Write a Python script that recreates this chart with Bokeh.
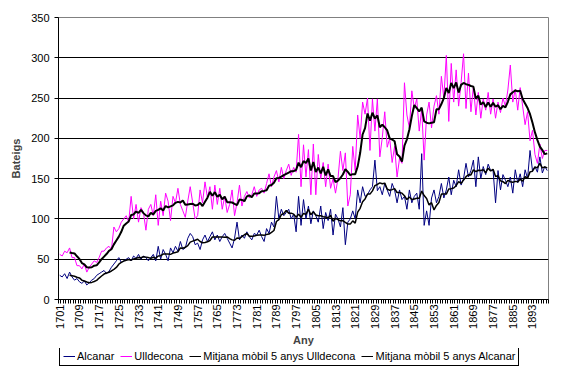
import numpy as np
from bokeh.plotting import figure
from bokeh.layouts import column
from bokeh.models import Range1d, FixedTicker, Legend, LegendItem, ColumnDataSource
from bokeh.embed import file_html
from bokeh.resources import INLINE

years = list(range(1701, 1900))

alcanar = [
    30, 28, 32, 26, 34, 28, 24, 26, 22, 20,
    23, 18, 21, 24, 26, 30, 32, 34, 36, 32,
    35, 40, 44, 48, 52, 46, 48, 50, 52, 48,
    54, 51, 56, 50, 54, 52, 48, 52, 56, 48,
    66, 50, 62, 56, 48, 64, 58, 66, 60, 72,
    62, 64, 76, 82, 78, 68, 70, 62, 74, 80,
    72, 78, 84, 74, 80, 72, 78, 82, 76, 70,
    64, 76, 96, 74, 80, 76, 84, 78, 74, 82,
    80, 86, 78, 72, 88, 82, 96, 90, 128, 100,
    112, 104, 108, 112, 100, 106, 84, 128, 92, 124,
    100, 116, 94, 110, 104, 96, 116, 88, 108, 98,
    112, 80, 106, 100, 90, 114, 68, 96, 100, 110,
    100, 136, 120, 140, 128, 130, 136, 140, 173, 135,
    140, 130, 144, 136, 128, 144, 136, 120, 136, 124,
    128, 112, 136, 120, 128, 132, 112, 181, 92, 110,
    92, 126, 136, 120, 128, 144, 126, 136, 152, 130,
    148, 140, 161, 142, 150, 169, 152, 160, 173, 140,
    177, 150, 165, 155, 168, 160, 160, 120, 160, 136,
    155, 148, 140, 152, 132, 161, 145, 156, 140, 161,
    150, 185, 160, 165, 158, 177, 157, 165, 160,
]

ulldecona = [
    56, 54, 60, 58, 64, 52, 52, 42, 42, 38,
    44, 34, 40, 44, 48, 46, 52, 60, 60, 64,
    66, 62, 90, 84, 88, 96, 100, 104, 96, 128,
    100, 118, 96, 114, 108, 86, 112, 118, 104, 130,
    92, 122, 104, 132, 122, 98, 128, 120, 138, 118,
    110, 102, 122, 140, 120, 100, 104, 136, 120, 146,
    126, 140, 112, 142, 118, 138, 112, 128, 108, 118,
    136, 104, 120, 142, 116, 128, 134, 126, 130, 140,
    128, 136, 138, 132, 144, 156, 140, 152, 160, 146,
    164, 150, 160, 168, 154, 164, 158, 205, 140, 192,
    152, 186, 130, 193, 130, 180, 150, 170, 140, 168,
    138, 150, 132, 150, 184, 160, 182, 116, 130, 190,
    160, 229, 200, 245, 230, 250, 185, 249, 209, 249,
    177, 201, 233, 189, 200, 170, 190, 152, 175, 169,
    269, 229, 213, 259, 237, 249, 209, 237, 173, 229,
    245, 213, 240, 253, 230, 277, 250, 303, 221, 293,
    245, 285, 240, 269, 305, 237, 281, 233, 265, 229,
    257, 225, 249, 235, 257, 230, 249, 225, 245, 232,
    250, 240, 260, 291, 245, 261, 235, 263, 240, 217,
    233, 197, 210, 180, 169, 193, 175, 185, 185,
]

tick_years = list(range(1701, 1894, 8))
y_ticks = [0, 50, 100, 150, 200, 250, 300, 350]
grid_values = [50, 100, 150, 200, 250, 300]
series_names = ["Alcanar", "Ulldecona",
                "Mitjana mòbil 5 anys Ulldecona", "Mitjana mòbil 5 anys Alcanar"]

window = 5


def trailing_mean(vals, n):
    arr = np.asarray(vals, dtype=float)
    return np.convolve(arr, np.ones(n) / n, mode="valid")


ma_years = years[window - 1:]
ma_ull = trailing_mean(ulldecona, window)
ma_alc = trailing_mean(alcanar, window)

FONT = "Liberation Sans"
C_ALC = "#000080"
C_ULL = "#FF00FF"

p = figure(width=552, height=348, output_backend="svg", toolbar_location=None,
           x_range=Range1d(1700.5, 1899.5), y_range=Range1d(0, 350),
           min_border_left=58, min_border_top=17, min_border_right=4,
           min_border_bottom=46)
p.background_fill_color = "white"
p.border_fill_color = "white"
p.outline_line_color = "#808080"
p.outline_line_width = 1

src = ColumnDataSource(dict(x=years, a=alcanar, u=ulldecona))
src_ma = ColumnDataSource(dict(x=ma_years, mu=ma_ull, ma=ma_alc))

p.line("x", "a", source=src, line_color=C_ALC, line_width=1)
p.line("x", "u", source=src, line_color=C_ULL, line_width=1)
p.line("x", "mu", source=src_ma, line_color="black", line_width=2)
p.line("x", "ma", source=src_ma, line_color="black", line_width=1.5)

# grid
p.xgrid.visible = False
p.ygrid.ticker = FixedTicker(ticks=grid_values)
p.ygrid.grid_line_color = "black"
p.ygrid.grid_line_width = 1

# x axis
xa = p.xaxis[0]
xa.ticker = FixedTicker(ticks=tick_years,
                        minor_ticks=[y + 0.5 for y in range(1700, 1900)])
xa.major_label_overrides = {y: str(y) for y in tick_years}
xa.major_label_orientation = np.pi / 2
xa.major_tick_line_color = None
xa.major_tick_out = 4
xa.major_tick_in = 0
xa.minor_tick_out = 4
xa.minor_tick_in = 0
xa.minor_tick_line_color = "black"
xa.axis_line_color = "black"
xa.major_label_standoff = 1
xa.major_label_text_font = FONT
xa.major_label_text_font_size = "11px"
xa.major_label_text_color = "black"
xa.axis_label = "Any"
xa.axis_label_text_font = FONT
xa.axis_label_text_font_size = "11px"
xa.axis_label_text_font_style = "bold"
xa.axis_label_standoff = 2

# y axis
ya = p.yaxis[0]
ya.ticker = FixedTicker(ticks=y_ticks)
ya.major_tick_out = 4
ya.major_tick_in = 0
ya.minor_tick_line_color = None
ya.axis_line_color = "black"
ya.major_tick_line_color = "black"
ya.major_label_standoff = 5
ya.major_label_text_font = FONT
ya.major_label_text_font_size = "11px"
ya.major_label_text_color = "black"
ya.axis_label = "Bateigs"
ya.axis_label_text_font = FONT
ya.axis_label_text_font_size = "11px"
ya.axis_label_text_font_style = "bold"
ya.axis_label_standoff = 6

# legend strip: a separate figure below the axis title.  Its lines use the
# same data, but its ranges keep them out of view, so only the legend shows.
pl = figure(width=552, height=20, output_backend="svg", toolbar_location=None,
            x_axis_type=None, y_axis_type=None,
            x_range=Range1d(0, 1), y_range=Range1d(-2, -1),
            min_border_left=58, min_border_right=4, min_border_top=0,
            min_border_bottom=0)
pl.outline_line_color = None
pl.background_fill_color = "white"
pl.border_fill_color = "white"
pl.xgrid.visible = False
pl.ygrid.visible = False
l_a = pl.line("x", "a", source=src, line_color=C_ALC, line_width=1)
l_u = pl.line("x", "u", source=src, line_color=C_ULL, line_width=1)
l_mu = pl.line("x", "mu", source=src_ma, line_color="black", line_width=1)
l_ma = pl.line("x", "ma", source=src_ma, line_color="black", line_width=1)

legend = Legend(items=[
    LegendItem(label=series_names[0], renderers=[l_a]),
    LegendItem(label=series_names[1], renderers=[l_u]),
    LegendItem(label=series_names[2], renderers=[l_mu]),
    LegendItem(label=series_names[3], renderers=[l_ma]),
], orientation="horizontal", location=(1, 2))
legend.border_line_color = "black"
legend.border_line_width = 1
legend.border_line_alpha = 1
legend.padding = 3
legend.spacing = 6
legend.margin = 0
legend.glyph_width = 12
legend.glyph_height = 10
legend.label_standoff = 2
legend.label_height = 10
legend.label_text_font = FONT
legend.label_text_font_size = "11px"
legend.label_text_color = "black"
legend.background_fill_color = "white"
legend.background_fill_alpha = 1
pl.add_layout(legend, "center")

layout = column(p, pl, spacing=0)
open("out.html", "w").write(file_html(layout, INLINE))
